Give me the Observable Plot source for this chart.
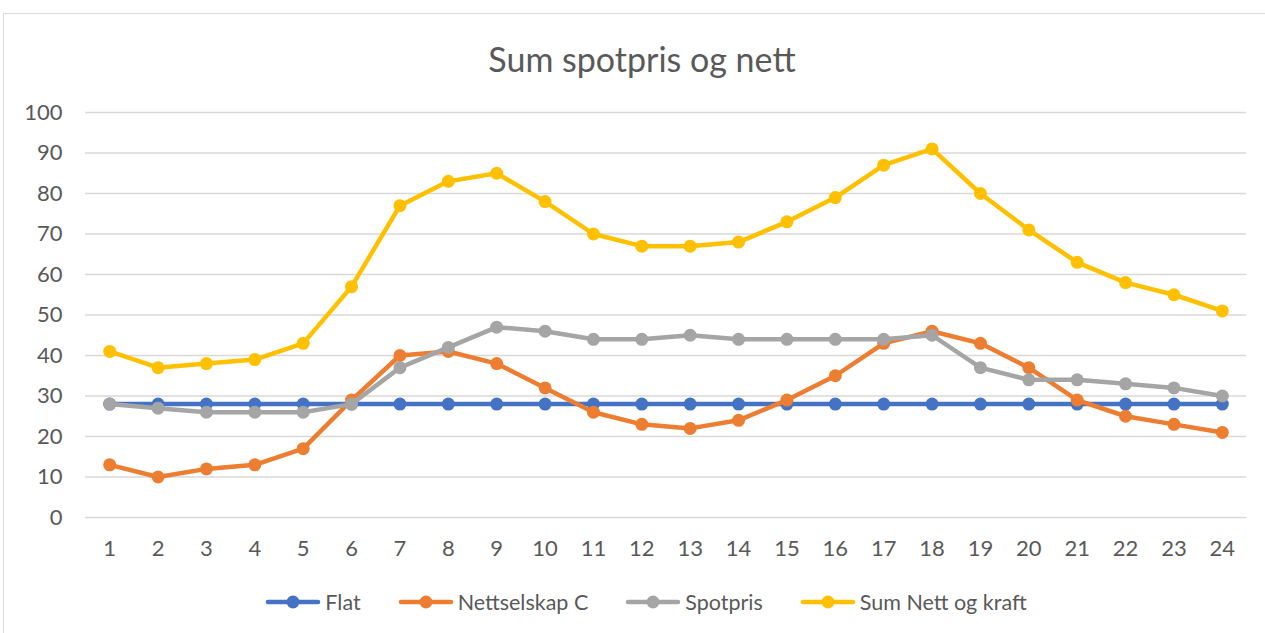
<!DOCTYPE html>
<html><head><meta charset="utf-8">
<script src="https://cdn.jsdelivr.net/npm/d3@7"></script>
<script src="https://cdn.jsdelivr.net/npm/@observablehq/plot@0.6"></script>
<style>
body{margin:0;background:#fff;width:1265px;height:633px;overflow:hidden;position:relative;font-family:Lato,"Open Sans",sans-serif;}
#frame{position:absolute;left:3px;top:13px;width:1275px;height:650px;border:1.5px solid #d9d9d9;box-sizing:border-box;}
#title{position:absolute;left:0;width:1284px;top:36px;text-align:center;font-size:34px;color:#595959;line-height:46px;}
#chart{position:absolute;left:0;top:90px;}
#legend{position:absolute;top:587px;left:0;width:1292px;display:flex;justify-content:center;align-items:center;font-size:21.5px;color:#595959;line-height:30px;}
.item{display:flex;align-items:center;margin:0 18.5px;}
.item svg{margin-right:4px;}
</style></head>
<body>
<div id="frame"></div>
<div id="title">Sum spotpris og nett</div>
<div id="chart"></div>
<div id="legend"></div>
<script>
const hours = d3.range(1, 25);
const seriesNames = ["Flat", "Nettselskap C", "Spotpris", "Sum Nett og kraft"];
const colors = ["#4472C4", "#ED7D31", "#A5A5A5", "#FFC000"];
const flat = [28,28,28,28,28,28,28,28,28,28,28,28,28,28,28,28,28,28,28,28,28,28,28,28];
const nettselskapC = [13,10,12,13,17,29,40,41,38,32,26,23,22,24,29,35,43,46,43,37,29,25,23,21];
const spotpris = [28,27,26,26,26,28,37,42,47,46,44,44,45,44,44,44,44,45,37,34,34,33,32,30];
const sumNettKraft = [41,37,38,39,43,57,77,83,85,78,70,67,67,68,73,79,87,91,80,71,63,58,55,51];
const yTicks = [0,10,20,30,40,50,60,70,80,90,100];

const allSeries = [flat, nettselskapC, spotpris, sumNettKraft];
const marks = [
  Plot.ruleY(yTicks, {stroke: "#d9d9d9", strokeWidth: 1.5})
];
allSeries.forEach((vals, i) => {
  const data = hours.map((h, j) => ({hour: h, value: vals[j]}));
  marks.push(Plot.line(data, {x: "hour", y: "value", stroke: colors[i], strokeWidth: 4.5, strokeLinejoin: "round"}));
  marks.push(Plot.dot(data, {x: "hour", y: "value", fill: colors[i], r: 6.5}));
});
marks.push(Plot.axisX({tickSize: 0, tickPadding: 23, fontSize: 22}));
marks.push(Plot.axisY({ticks: yTicks, tickSize: 0, tickPadding: 23, fontSize: 22}));

const chart = Plot.plot({
  width: 1265,
  height: 480,
  marginLeft: 85,
  marginRight: 19,
  marginTop: 22,
  marginBottom: 53,
  style: {fontFamily: "Lato, 'Open Sans', sans-serif", color: "#595959", background: "transparent"},
  x: {type: "point", domain: hours, padding: 0.5, round: false, label: null},
  y: {domain: [0, 100], label: null},
  marks
});
document.getElementById("chart").appendChild(chart);

const legend = document.getElementById("legend");
seriesNames.forEach((name, i) => {
  const item = document.createElement("div");
  item.className = "item";
  item.innerHTML = `<svg width="56" height="16"><line x1="3" x2="53" y1="8" y2="8" stroke="${colors[i]}" stroke-width="4.5" stroke-linecap="round"/><circle cx="28" cy="8" r="6.5" fill="${colors[i]}"/></svg><span>${name}</span>`;
  legend.appendChild(item);
});
</script>
</body></html>
